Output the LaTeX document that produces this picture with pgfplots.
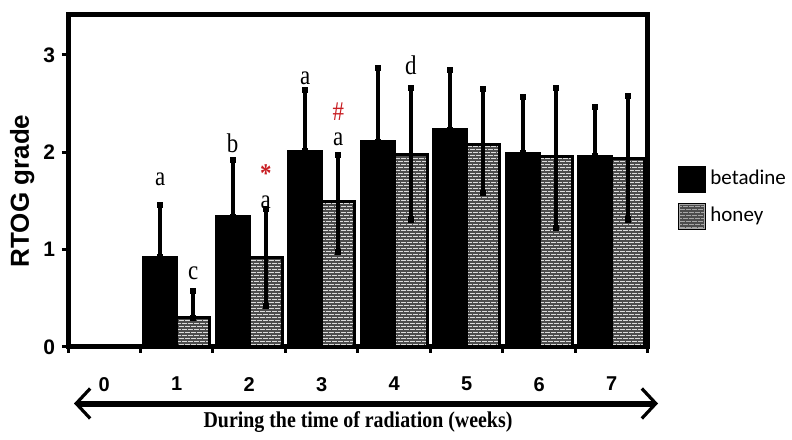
\documentclass[border=0pt]{standalone}
\usepackage{fontspec}
\setmainfont{Liberation Serif}
\setsansfont{Liberation Sans}
\newfontfamily\calib{Carlito}
\usepackage{pgfplots}
\usepackage{pgfplotstable}
\pgfplotsset{compat=1.18}
\usetikzlibrary{patterns,arrows.meta}
\definecolor{sigred}{RGB}{200,30,35}

% fine brick texture for the honey bars (dark mortar on light bricks)
\pgfdeclarepatternformonly{minibricks}{\pgfpoint{-0.1pt}{-0.1pt}}{\pgfpoint{3.1pt}{3.1pt}}{\pgfpoint{3pt}{3pt}}{%
  \pgfsetlinewidth{0.75pt}%
  \pgfpathmoveto{\pgfpoint{0pt}{0pt}}\pgfpathlineto{\pgfpoint{3pt}{0pt}}%
  \pgfpathmoveto{\pgfpoint{0pt}{1.5pt}}\pgfpathlineto{\pgfpoint{3pt}{1.5pt}}%
  \pgfpathmoveto{\pgfpoint{0.75pt}{0pt}}\pgfpathlineto{\pgfpoint{0.75pt}{1.5pt}}%
  \pgfpathmoveto{\pgfpoint{2.25pt}{1.5pt}}\pgfpathlineto{\pgfpoint{2.25pt}{3pt}}%
  \pgfusepath{stroke}}

% week, mean, error plus, error minus (week 0: both groups at 0, nothing drawn)
\pgfplotstableread{
wk  m     ep    en
1   0.92  0.54  0
2   1.34  0.58  0
3   2.01  0.63  0
4   2.11  0.76  0
5   2.23  0.62  0
6   1.99  0.58  0
7   1.96  0.51  0
}\betadine

\pgfplotstableread{
wk  m     ep    en
1   0.30  0.28  0
2   0.92  0.50  0.50
3   1.49  0.48  0.51
4   1.98  0.68  0.67
5   2.08  0.57  0.50
6   1.96  0.70  0.74
7   1.94  0.64  0.63
}\honey

\tikzset{lett/.style={font=\fontsize{13.5}{14}\selectfont, xscale=0.85, inner sep=0.5pt}}

\begin{document}
\begin{tikzpicture}
\useasboundingbox (0,0) rectangle (396pt,219.5pt);
\begin{axis}[
    at={(34pt,46pt)}, anchor=south west,
    width=290pt, height=166pt, scale only axis,
    xmin=-0.5, xmax=7.5, ymin=0, ymax=3.41,
    ybar=0pt, bar width=16.5pt,
    clip=false,
    axis line style={line width=2.5pt},
    xtick={0,...,7},
    minor xtick={-0.5,0.5,...,7.5},
    ytick={0,1,2,3},
    tick align=outside,
    xtick pos=left, ytick pos=left,
    major tick length=3pt, minor tick length=3pt,
    major x tick style={draw=none},
    every tick/.style={line width=1.5pt, black},
    minor tick style={line width=1.5pt, black},
    /pgf/number format/assume math mode=true,
    yticklabel style={font=\sffamily\bfseries\fontsize{10.5}{12}\selectfont},
    xticklabel style={font=\sffamily\bfseries\fontsize{10}{12}\selectfont, yshift=-8.5pt},
    ylabel={RTOG grade},
    every axis y label/.style={at={(rel axis cs:-0.079,0.47)}, anchor=center, rotate=90,
        font=\sffamily\bfseries\fontsize{13}{14}\selectfont},
    legend style={at={(1,0.45)}, anchor=west, xshift=12pt, draw=none, fill=none,
        font=\calib\fontsize{10.5}{12}\selectfont, row sep=5pt,
        /tikz/every even column/.append style={column sep=1pt}},
    legend cell align=left,
    error bars/error bar style={line width=2pt, black},
    error bars/error mark=square*,
    error bars/error mark options={mark size=1.3pt, black},
]
\addplot[fill=black, draw=black, line width=1.5pt,
    legend image code/.code={\fill[black] (0pt,-6pt) rectangle (12.5pt,6pt);},
    error bars/.cd, y dir=both, y explicit]
    table[x=wk, y=m, y error plus=ep, y error minus=en] {\betadine};
\addplot[fill=gray!28, draw=black, line width=1.5pt,
    postaction={pattern=minibricks, pattern color=black!70},
    legend image code/.code={\path[fill=gray!28, postaction={pattern=minibricks, pattern color=black!70}]
        (0pt,-6pt) rectangle (12.5pt,6pt);
        \draw[gray!70, line width=0.4pt] (0pt,-6pt) rectangle (12.5pt,6pt);},
    error bars/.cd, y dir=both, y explicit]
    table[x=wk, y=m, y error plus=ep, y error minus=en] {\honey};
\legend{betadine, honey}

\node[lett] at (axis cs:0.772,1.72) {a};
\node[lett] at (axis cs:1.228,0.76) {c};
\node[lett] at (axis cs:1.772,2.09) {b};
\node[lett] at (axis cs:2.228,1.49) {a};
\node[lett, text=sigred, font=\bfseries\fontsize{13.5}{14}\selectfont] at (axis cs:2.228,1.78) {*};
\node[lett] at (axis cs:2.772,2.76) {a};
\node[lett] at (axis cs:3.228,2.13) {a};
\node[lett, text=sigred] at (axis cs:3.228,2.42) {\#};
\node[lett] at (axis cs:4.228,2.89) {d};
\end{axis}

\draw[line width=3pt, {Straight Barb[length=7pt,width=15pt,line width=1.6pt]}-{Straight Barb[length=7pt,width=15pt,line width=1.6pt]}]
    (37pt,17.75pt) -- (329pt,17.75pt);
\node[font=\bfseries\fontsize{11.3}{12}\selectfont, xscale=0.88, anchor=base]
    at (179pt,5.5pt) {During the time of radiation (weeks)};
\end{tikzpicture}
\end{document}
